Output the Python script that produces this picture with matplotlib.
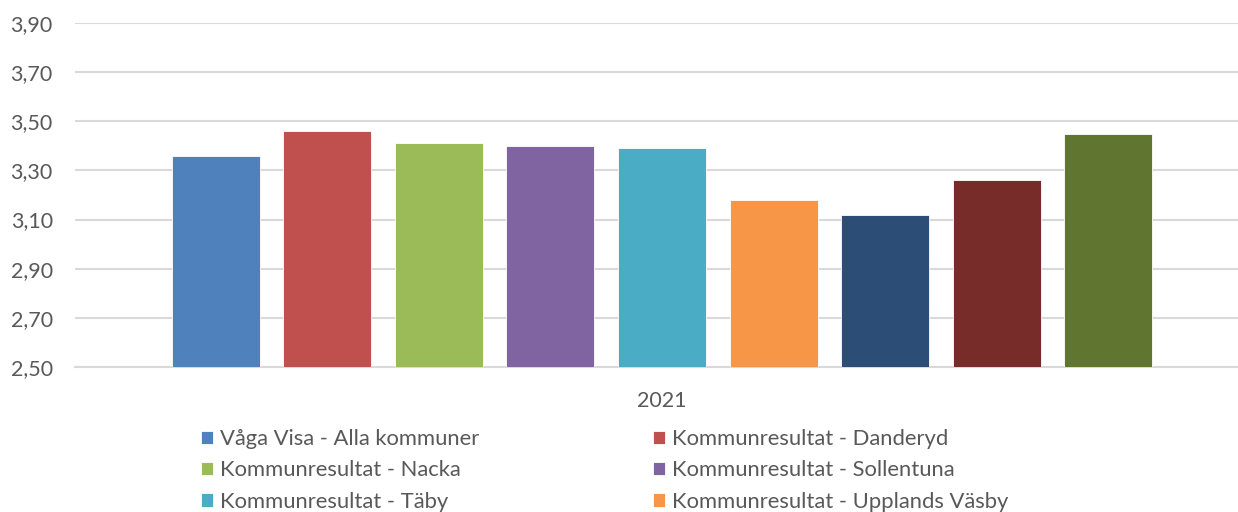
import matplotlib.pyplot as plt
import numpy as np
from matplotlib.ticker import FuncFormatter

plt.rcParams['font.family'] = ['Lato', 'DejaVu Sans']

category = "2021"
series_names = [
    "Våga Visa - Alla kommuner",
    "Kommunresultat - Danderyd",
    "Kommunresultat - Nacka",
    "Kommunresultat - Sollentuna",
    "Kommunresultat - Täby",
    "Kommunresultat - Upplands Väsby",
    "Kommunresultat - 7",
    "Kommunresultat - 8",
    "Kommunresultat - 9",
]
values = [3.36, 3.46, 3.41, 3.40, 3.39, 3.18, 3.12, 3.26, 3.45]
colors = ["#4f81bd", "#c0504d", "#9bbb59", "#8064a2", "#4bacc6",
          "#f79646", "#2c4d75", "#772c2a", "#5f7530"]
yticks = [2.5, 2.7, 2.9, 3.1, 3.3, 3.5, 3.7, 3.9]

W, H = 1238, 512
fig = plt.figure(figsize=(W / 100, H / 100), dpi=100)
ax = fig.add_axes([75 / W, 1 - 367 / H, (1249 - 75) / W, (367 - 23) / H])

x = np.arange(len(values))
bars = ax.bar(x, values, width=0.79, color=colors, bottom=0, zorder=3,
              edgecolor="white", linewidth=0.6)

ax.set_ylim(2.5, 3.9)
ax.set_xlim(-1.26, len(values) - 1 + 1.26)
ax.set_yticks(yticks)
ax.yaxis.set_major_formatter(FuncFormatter(lambda v, p: f"{v:.2f}".replace(".", ",")))
ax.yaxis.grid(True, color="#d9d9d9", linewidth=1.5, zorder=0)
ax.set_xticks([(len(values) - 1) / 2])
ax.set_xticklabels([category])
ax.tick_params(axis="both", length=0, labelsize=15.5, colors="#595959")
ax.tick_params(axis="x", pad=17)
ax.tick_params(axis="y", pad=16)
for s in ["top", "right", "left"]:
    ax.spines[s].set_visible(False)
ax.spines["bottom"].set_color("#d9d9d9")
ax.spines["bottom"].set_linewidth(1.5)

# legend is cut off after the first three rows in the original
order = [0, 2, 4, 1, 3, 5]
leg = fig.legend([bars[i] for i in order], [series_names[i] for i in order],
                 loc="upper left", bbox_to_anchor=(201 / W, 1 - 429 / H),
                 ncol=2, frameon=False, fontsize=15.8, handlelength=0.55,
                 handleheight=0.55, handletextpad=0.3, labelspacing=0.52,
                 columnspacing=7.95, borderpad=0, borderaxespad=0)
for t in leg.get_texts():
    t.set_color("#595959")

fig.savefig("out.png", dpi=100)
